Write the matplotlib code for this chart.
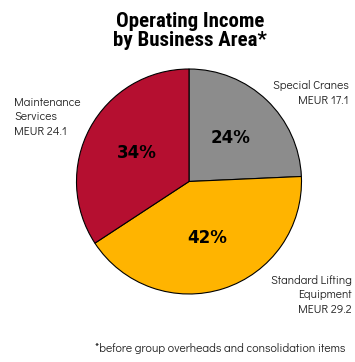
import matplotlib
matplotlib.use("Agg")
import matplotlib.pyplot as plt
import numpy as np

# Operating income by business area (MEUR)
areas = ["Special Cranes", "Standard Lifting\nEquipment", "Maintenance\nServices"]
meur = [17.1, 29.2, 24.1]
shares = ["24%", "42%", "34%"]
colors = ["#8c8c8c", "#ffb400", "#b50f30"]

W, H = 355, 362
fig = plt.figure(figsize=(W / 100, H / 100), dpi=100)

# pie axes: centre (189, 181.5) px, radius 112.5 px
cx, cy, r = 189, 181.5, 112.5
ax = fig.add_axes([(cx - r) / W, (H - cy - r) / H, 2 * r / W, 2 * r / H])
wedges, _ = ax.pie(meur, colors=colors, startangle=90, counterclock=False,
                   radius=1.0, wedgeprops=dict(edgecolor="black", linewidth=0.8))
ax.set_xlim(-1, 1)
ax.set_ylim(-1, 1)
ax.set_aspect("equal")
ax.axis("off")

for w, s in zip(wedges, shares):
    mid = np.deg2rad((w.theta1 + w.theta2) / 2)
    ax.text(0.53 * np.cos(mid), 0.53 * np.sin(mid), s, ha="center", va="center",
            fontsize=12, fontweight="bold", color="black", family="DejaVu Sans")

fig.text(190 / W, 1 - 31 / H, "Operating Income\nby Business Area*", ha="center",
         va="center", fontsize=15, fontweight="bold", family="Roboto Condensed",
         linespacing=1.05)

lbl = dict(fontsize=8.5, color="#222222", linespacing=1.4, family="Didact Gothic")
fig.text(349 / W, 1 - 93 / H, f"{areas[0]}\nMEUR {meur[0]}", ha="right", va="center", **lbl)
fig.text(352 / W, 1 - 295 / H, f"{areas[1]}\nMEUR {meur[1]}", ha="right", va="center", **lbl)
fig.text(14 / W, 1 - 117 / H, f"{areas[2]}\nMEUR {meur[2]}", ha="left", va="center", **lbl)

fig.text(95 / W, 1 - 348 / H, "*before group overheads and consolidation items",
         ha="left", va="center", fontsize=8.6, color="#222222", family="Didact Gothic")

fig.savefig("out.png", dpi=100)
